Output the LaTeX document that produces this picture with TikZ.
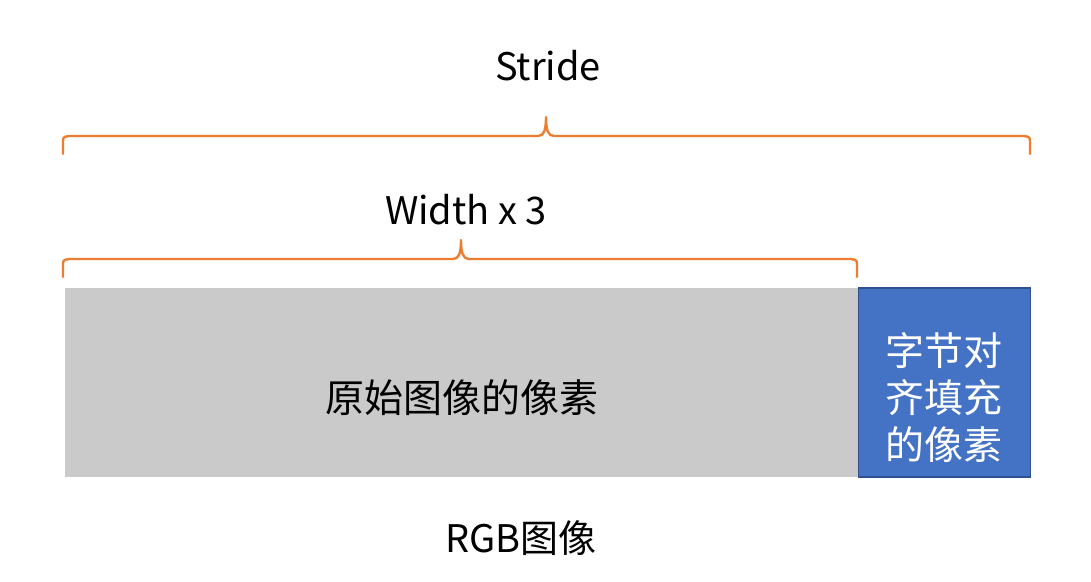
\documentclass[tikz,border=0pt]{standalone}
\usepackage{fontspec}
\setmainfont{Noto Sans CJK SC}
\definecolor{braceorange}{HTML}{ED7D31}
\definecolor{padblue}{HTML}{4472C4}
\definecolor{padborder}{HTML}{2F528F}
\definecolor{pixgray}{HTML}{CACACA}
\begin{document}
\begin{tikzpicture}[x=1pt,y=-1pt,
  brace/.style={draw=braceorange,line width=2.4pt,line join=round,line cap=round},
  lbl/.style={inner sep=0pt,font=\fontsize{38}{46}\selectfont},
  cjk/.style={inner sep=0pt,font=\fontsize{39}{47}\selectfont},
  block/.style={inner sep=0pt,outer sep=0pt,minimum height=189pt}]
\useasboundingbox (0,0) rectangle (1091,581);
% blocks
\node[block,fill=pixgray,minimum width=793pt] (pix) at (461.5,382.5) {};
\node[block,fill=padblue,draw=padborder,line width=1.5pt,minimum width=172pt] (pad) at (944.5,382.5) {};
% texts
\node[lbl] (stride) at (548,66) {Stride};
\node[lbl] (width) at (466,210) {Width x 3};
\node[cjk] (pixtext) at (462,398) {原始图像的像素};
\node[cjk,text=white,align=center] (padtext) at (944,398) {字节对\\齐填充\\的像素};
\node[lbl] (rgb) at (521,538) {RGB图像};
% braces
\draw[brace] (63,154) -- (63,143) .. controls (63,137) .. (69,136) -- (538,136)
  .. controls (544,136) and (546,130) .. (546,117)
  .. controls (546,130) and (548,136) .. (554,136) -- (1024,136)
  .. controls (1030,137) .. (1030,143) -- (1030,154);
\draw[brace] (63,277) -- (63,266) .. controls (63,260) .. (69,259) -- (453,259)
  .. controls (459,259) and (461,253) .. (461,240)
  .. controls (461,253) and (463,259) .. (469,259) -- (851,259)
  .. controls (857,260) .. (857,266) -- (857,277);
\end{tikzpicture}
\end{document}
